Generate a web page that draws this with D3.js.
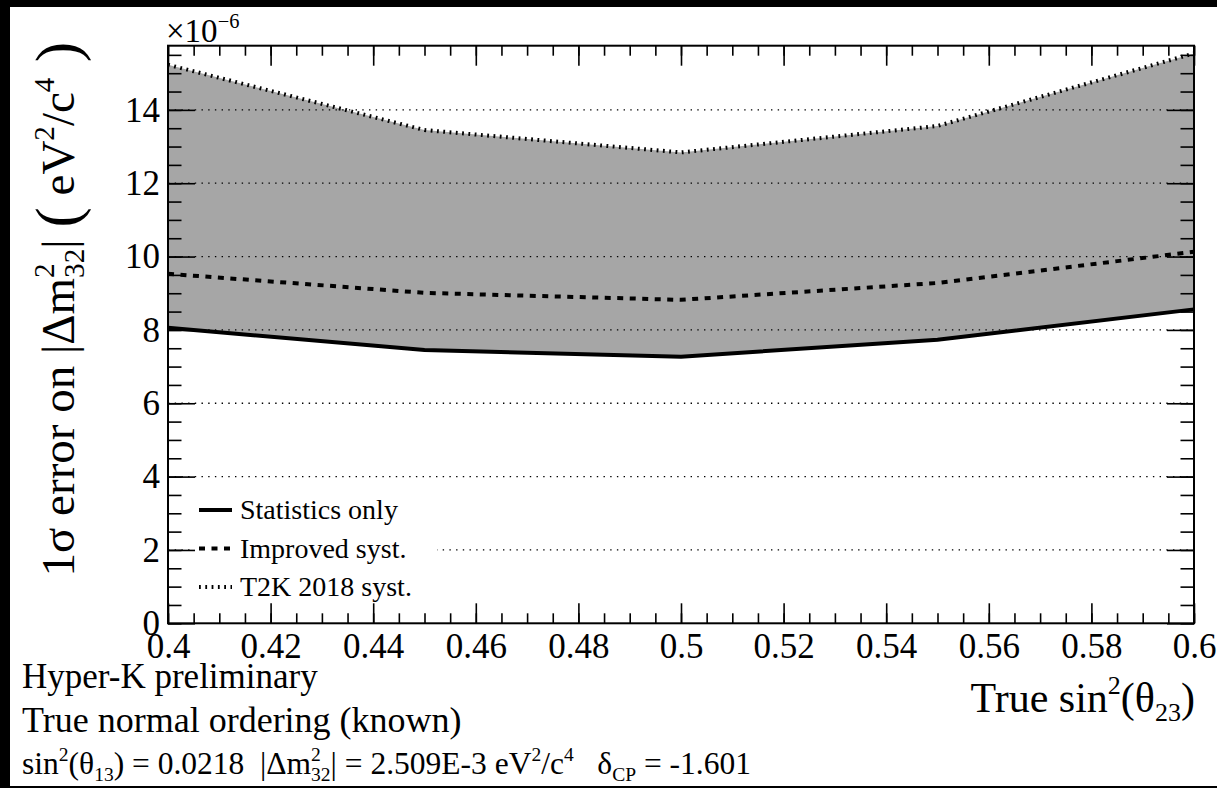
<!DOCTYPE html>
<html>
<head>
<meta charset="utf-8">
<script src="https://cdn.jsdelivr.net/npm/d3@7"></script>
<style>
  body { margin: 0; background: #000; }
  svg text, svg tspan { font-family: "Liberation Serif", "Times New Roman", serif !important; fill: #000; }
</style>
</head>
<body>
<svg width="1217" height="788"></svg>
<script>
// values (units of 1e-6 eV^2/c^4)
const sin2Theta23 = [0.40, 0.45, 0.50, 0.55, 0.60];
const statsOnly   = [8.06, 7.45, 7.27, 7.73, 8.56];
const improved    = [9.53, 9.01, 8.82, 9.28, 10.13];
const t2k2018     = [15.23, 13.45, 12.84, 13.56, 15.54];
const seriesNames = ["Statistics only", "Improved syst.", "T2K 2018 syst."];

const svg = d3.select("svg");
svg.append("rect").attr("width", 1217).attr("height", 788).attr("fill", "#000");
svg.append("rect").attr("x", 10).attr("y", 7).attr("width", 1207).attr("height", 779).attr("fill", "#fff");

const x = d3.scaleLinear().domain([0.4, 0.6]).range([168, 1194]);
const y = d3.scaleLinear().domain([0, 15.75]).range([623.3, 45.7]);

// superscripts / subscripts as tspans
function rich(sel, parts, size) {
  let shift = 0, lastW = 0;
  parts.forEach(([s, kind]) => {
    const small = kind === "sup" || kind === "sub" || kind === "stack";
    const fs = small ? size * 0.62 : (kind === "big" ? size * 1.3 : size);
    let target = 0;
    if (kind === "sup") target = -0.42 * size;
    if (kind === "sub" || kind === "stack") target = 0.22 * size;
    if (kind === "big") target = 0.08 * size;
    const t = sel.append("tspan").attr("font-size", fs).attr("dy", target - shift).text(s);
    if (kind === "stack") t.attr("dx", -lastW);
    shift = target;
    lastW = s.length * 0.5 * fs;
  });
  if (shift !== 0) sel.append("tspan").attr("dy", -shift).text("");
}

// filled band between stats-only and T2K 2018
const band = d3.area()
  .x((d, i) => x(sin2Theta23[i]))
  .y0(d => y(d[0]))
  .y1(d => y(d[1]));
svg.append("path")
  .datum(statsOnly.map((v, i) => [v, t2k2018[i]]))
  .attr("d", band)
  .attr("fill", "#a6a6a6");

// grid
svg.append("g").selectAll("line")
  .data(y.ticks(8).filter(v => v > 0))
  .join("line")
  .attr("x1", 168).attr("x2", 1194)
  .attr("y1", d => y(d)).attr("y2", d => y(d))
  .attr("stroke", "#000").attr("stroke-width", 1.3)
  .attr("stroke-dasharray", "1.4,5.3");

const line = d3.line().x((d, i) => x(sin2Theta23[i])).y(d => y(d));
const styles = [
  { data: statsOnly, dash: null },
  { data: improved, dash: "6,6.5" },
  { data: t2k2018, dash: "1.8,4.5" }
];
styles.forEach(s => {
  svg.append("path").datum(s.data).attr("d", line)
    .attr("fill", "none").attr("stroke", "#000").attr("stroke-width", 4)
    .attr("stroke-dasharray", s.dash);
});

// legend
svg.append("rect").attr("x", 190).attr("y", 490).attr("width", 247).attr("height", 114).attr("fill", "#fff");
const leg = svg.append("g").selectAll("g").data(seriesNames).join("g")
  .attr("transform", (d, i) => `translate(0,${510 + i * 38.5})`);
leg.append("line").attr("x1", 199).attr("x2", 232)
  .attr("stroke", "#000").attr("stroke-width", 4)
  .attr("stroke-dasharray", (d, i) => styles[i].dash);
leg.append("text").attr("x", 240).attr("y", 9).attr("font-size", 28).text(d => d);

// frame + ticks on all sides
svg.append("rect").attr("x", 168).attr("y", 45.7).attr("width", 1026).attr("height", 577.6)
  .attr("fill", "none").attr("stroke", "#000").attr("stroke-width", 2);

const xMinor = d3.range(0.4, 0.6001, 0.005);
const yMinor = d3.range(0, 15.75, 0.5);
function ticks(axis, vals, len, fmt, pad, tr) {
  const g = svg.append("g").attr("transform", tr)
    .call(axis.tickValues(vals).tickSize(-len).tickPadding(pad).tickFormat(fmt));
  g.select(".domain").remove();
  g.attr("font-family", "Liberation Serif");
  g.selectAll("line").attr("stroke", "#000").attr("stroke-width", 1.6);
  g.selectAll("text").attr("font-size", 35).style("font-family", "'Liberation Serif', serif");
  return g;
}
ticks(d3.axisBottom(x), xMinor, 10, "", 0, "translate(0,623.3)");
ticks(d3.axisBottom(x), x.ticks(10), 20, d3.format("~g"), 10, "translate(0,623.3)");
ticks(d3.axisTop(x), xMinor, 10, "", 0, "translate(0,45.7)");
ticks(d3.axisTop(x), x.ticks(10), 20, "", 0, "translate(0,45.7)");
ticks(d3.axisLeft(y), yMinor, 13.5, "", 0, "translate(168,0)");
ticks(d3.axisLeft(y), y.ticks(8), 27, d3.format("d"), 8, "translate(168,0)");
ticks(d3.axisRight(y), yMinor, 13.5, "", 0, "translate(1194,0)");
ticks(d3.axisRight(y), y.ticks(8), 27, "", 0, "translate(1194,0)");

// exponent
rich(svg.append("text").attr("x", 166).attr("y", 42).attr("font-size", 33),
  [["\u00d710", ""], ["\u22126", "sup"]], 33);

// y title
const yt = svg.append("text").attr("transform", "translate(74,42) rotate(-90)")
  .attr("text-anchor", "end").attr("font-size", 47);
rich(yt, [["1\u03c3 error on |\u0394m", ""], ["2", "sup"], ["32", "stack"], ["| ", ""],
  ["(", "big"], [" eV", ""], ["2", "sup"], ["/c", ""], ["4", "sup"], [" )", "big"]], 47);

// x title
const xt = svg.append("text").attr("x", 1195).attr("y", 712).attr("text-anchor", "end").attr("font-size", 42);
rich(xt, [["True sin", ""], ["2", "sup"], ["(\u03b8", ""], ["23", "sub"], [")", ""]], 42);

// notes
svg.append("text").attr("x", 22).attr("y", 688).attr("font-size", 35).text("Hyper-K preliminary");
svg.append("text").attr("x", 22).attr("y", 732).attr("font-size", 36).text("True normal ordering (known)");
const n3 = svg.append("text").attr("x", 22).attr("y", 774).attr("font-size", 31.5).attr("xml:space", "preserve");
rich(n3, [["sin", ""], ["2", "sup"], ["(\u03b8", ""], ["13", "sub"], [") = 0.0218  |\u0394m", ""],
  ["2", "sup"], ["32", "stack"], ["| = 2.509E-3 eV", ""], ["2", "sup"], ["/c", ""], ["4", "sup"],
  ["   \u03b4", ""], ["CP", "sub"], [" = -1.601", ""]], 31.5);
</script>
</body>
</html>
